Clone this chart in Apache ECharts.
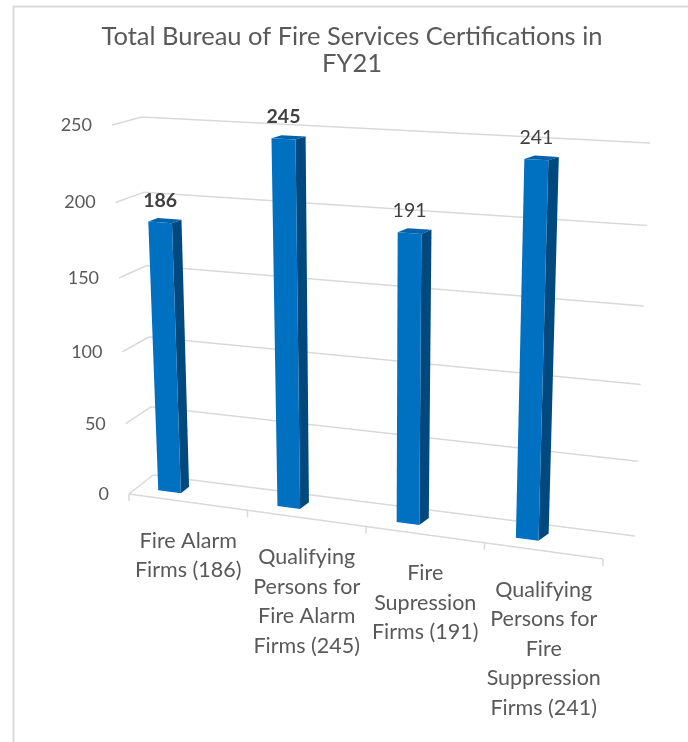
<!DOCTYPE html>
<html>
<head>
<meta charset="utf-8">
<script src="https://cdn.jsdelivr.net/npm/echarts@6/dist/echarts.min.js"></script>
<style>
    html, body { margin: 0; padding: 0; background: #fff; }
    #main { width: 688px; height: 742px; }
</style>
</head>
<body>
<div id="main"></div>
<script>
    // data
    var categories = [
        'Fire Alarm\nFirms (186)',
        'Qualifying\nPersons for\nFire Alarm\nFirms (245)',
        'Fire\nSupression\nFirms (191)',
        'Qualifying\nPersons for\nFire\nSuppression\nFirms (241)'
    ];
    var values = [186, 245, 191, 241];
    var yTicks = [0, 50, 100, 150, 200, 250];
    var titleText = 'Total Bureau of Fire Services Certifications in\nFY21';

    // styles
    var fontFamily = 'Lato, "Open Sans", sans-serif';
    var labelWeights = ['bold', 'bold', 'normal', 'normal'];
    var gridColor = '#d9d9d9';
    var textColor = '#595959';

    // page corners of the 3d plot box (front d=0 / back d=1)
    var box = {
        front: {lb: [129, 494], rb: [603, 559], lt: [112, 125], rt: [618, 153]},
        back: {lb: [153, 475], rb: [635, 536], lt: [142, 117], rt: [650, 143]}
    };
    var barShift = -0.23;   // bar offset inside its band (band units)
    var barFrac = 0.19;     // bar width (band units)
    var barD0 = 0.35, barD1 = 0.68;

    function vwarp(t) {
        var k = 0.941;   // light perspective along the value direction
        return t * k / (1 + (k - 1) * t);
    }
    function lerp(a, b, t) {
        return [a[0] + (b[0] - a[0]) * t, a[1] + (b[1] - a[1]) * t];
    }
    function project(u, v, d) {
        var w = vwarp(v);
        var f = lerp(lerp(box.front.lb, box.front.rb, u), lerp(box.front.lt, box.front.rt, u), w);
        var b = lerp(lerp(box.back.lb, box.back.rb, u), lerp(box.back.lt, box.back.rt, u), w);
        return lerp(f, b, d);
    }
    // flat grid pixel -> unit coords
    function toUV(cs, p) {
        return [(p[0] - cs.x) / cs.width, (cs.y + cs.height - p[1]) / cs.height];
    }
    function poly(points, color) {
        return {type: 'polygon', shape: {points: points}, style: {fill: color}};
    }

    function renderGrid(params, api) {
        var cs = params.coordSys;
        var val = api.value(1);
        var v = toUV(cs, api.coord([0, val]))[1];
        var children = [];
        var lineStyle = {stroke: gridColor, lineWidth: 1.5};
        var a = project(0, v, 1), b = project(1, v, 1), c = project(0, v, 0);
        children.push({type: 'line', shape: {x1: a[0], y1: a[1], x2: b[0], y2: b[1]}, style: lineStyle});
        children.push({type: 'line', shape: {x1: c[0], y1: c[1], x2: a[0], y2: a[1]}, style: lineStyle});
        if (val === 0) {
            var e = project(1, 0, 0);
            children.push({type: 'line', shape: {x1: c[0], y1: c[1], x2: e[0], y2: e[1]}, style: lineStyle});
            var n = categories.length;
            for (var k = 0; k <= n; k++) {
                var t = project(k / n, 0, 0);
                children.push({type: 'line', shape: {x1: t[0], y1: t[1], x2: t[0], y2: t[1] + 7}, style: lineStyle});
            }
        }
        children.push({
            type: 'text',
            x: c[0] - 20,
            y: c[1],
            style: {
                text: String(val), fill: textColor, font: '18px ' + fontFamily,
                textAlign: 'right', textVerticalAlign: 'middle'
            }
        });
        return {type: 'group', children: children};
    }

    function renderBar(params, api) {
        var cs = params.coordSys;
        var i = api.value(0), val = api.value(1);
        var band = api.size([1, 0])[0] / cs.width;
        var top = toUV(cs, api.coord([i, val]));
        var v0 = toUV(cs, api.coord([i, 0]))[1];
        var v1 = top[1];
        var u0 = top[0] + band * barShift - band * barFrac / 2;
        var u1 = u0 + band * barFrac;

        var fl0 = project(u0, v0, barD0), fr0 = project(u1, v0, barD0);
        var fl1 = project(u0, v1, barD0), fr1 = project(u1, v1, barD0);
        var br0 = project(u1, v0, barD1), br1 = project(u1, v1, barD1);
        var bl1 = project(u0, v1, barD1);

        var edge = project(top[0], 0, 0);
        return {
            type: 'group',
            children: [
                poly([fl1, fr1, br1, bl1], '#0262ab'),
                poly([fr0, fr1, br1, br0], '#00497f'),
                poly([fl0, fl1, fr1, fr0], '#0070c0'),
                {
                    type: 'text',
                    x: (fl1[0] + fr1[0]) / 2,
                    y: (fl1[1] + fr1[1]) / 2 - 22,
                    style: {
                        text: String(val), fill: '#404040',
                        font: labelWeights[i] + ' 19.5px ' + fontFamily,
                        textAlign: 'center', textVerticalAlign: 'middle'
                    }
                },
                {
                    type: 'text',
                    x: edge[0],
                    y: edge[1] + 24,
                    style: {
                        text: categories[i], fill: textColor,
                        font: '21.5px ' + fontFamily, lineHeight: 29.5,
                        textAlign: 'center', textVerticalAlign: 'top'
                    }
                }
            ]
        };
    }

    var chart = echarts.init(document.getElementById('main'));
    var option = {
        backgroundColor: '#fff',
        animation: false,
        graphic: [
            {
                type: 'rect', shape: {x: 13.5, y: 6.5, width: 800, height: 800},
                style: {fill: 'none', stroke: gridColor, lineWidth: 2}, silent: true
            },
            {
                type: 'text', x: 352, y: 23,
                style: {
                    text: titleText, fill: textColor, font: '25.5px ' + fontFamily,
                    lineHeight: 27, textAlign: 'center', textVerticalAlign: 'top'
                }
            }
        ],
        grid: {left: 100, right: 100, top: 100, bottom: 200},
        xAxis: {type: 'category', data: categories, show: false},
        yAxis: {type: 'value', min: 0, max: 250, interval: 50, show: false},
        series: [
            {
                type: 'custom',
                renderItem: renderGrid,
                clip: false,
                silent: true,
                data: yTicks.map(function (t) { return [0, t]; })
            },
            {
                type: 'custom',
                renderItem: renderBar,
                clip: false,
                data: values.map(function (v, i) { return [i, v]; })
            }
        ]
    };
    chart.setOption(option);
</script>
</body>
</html>
